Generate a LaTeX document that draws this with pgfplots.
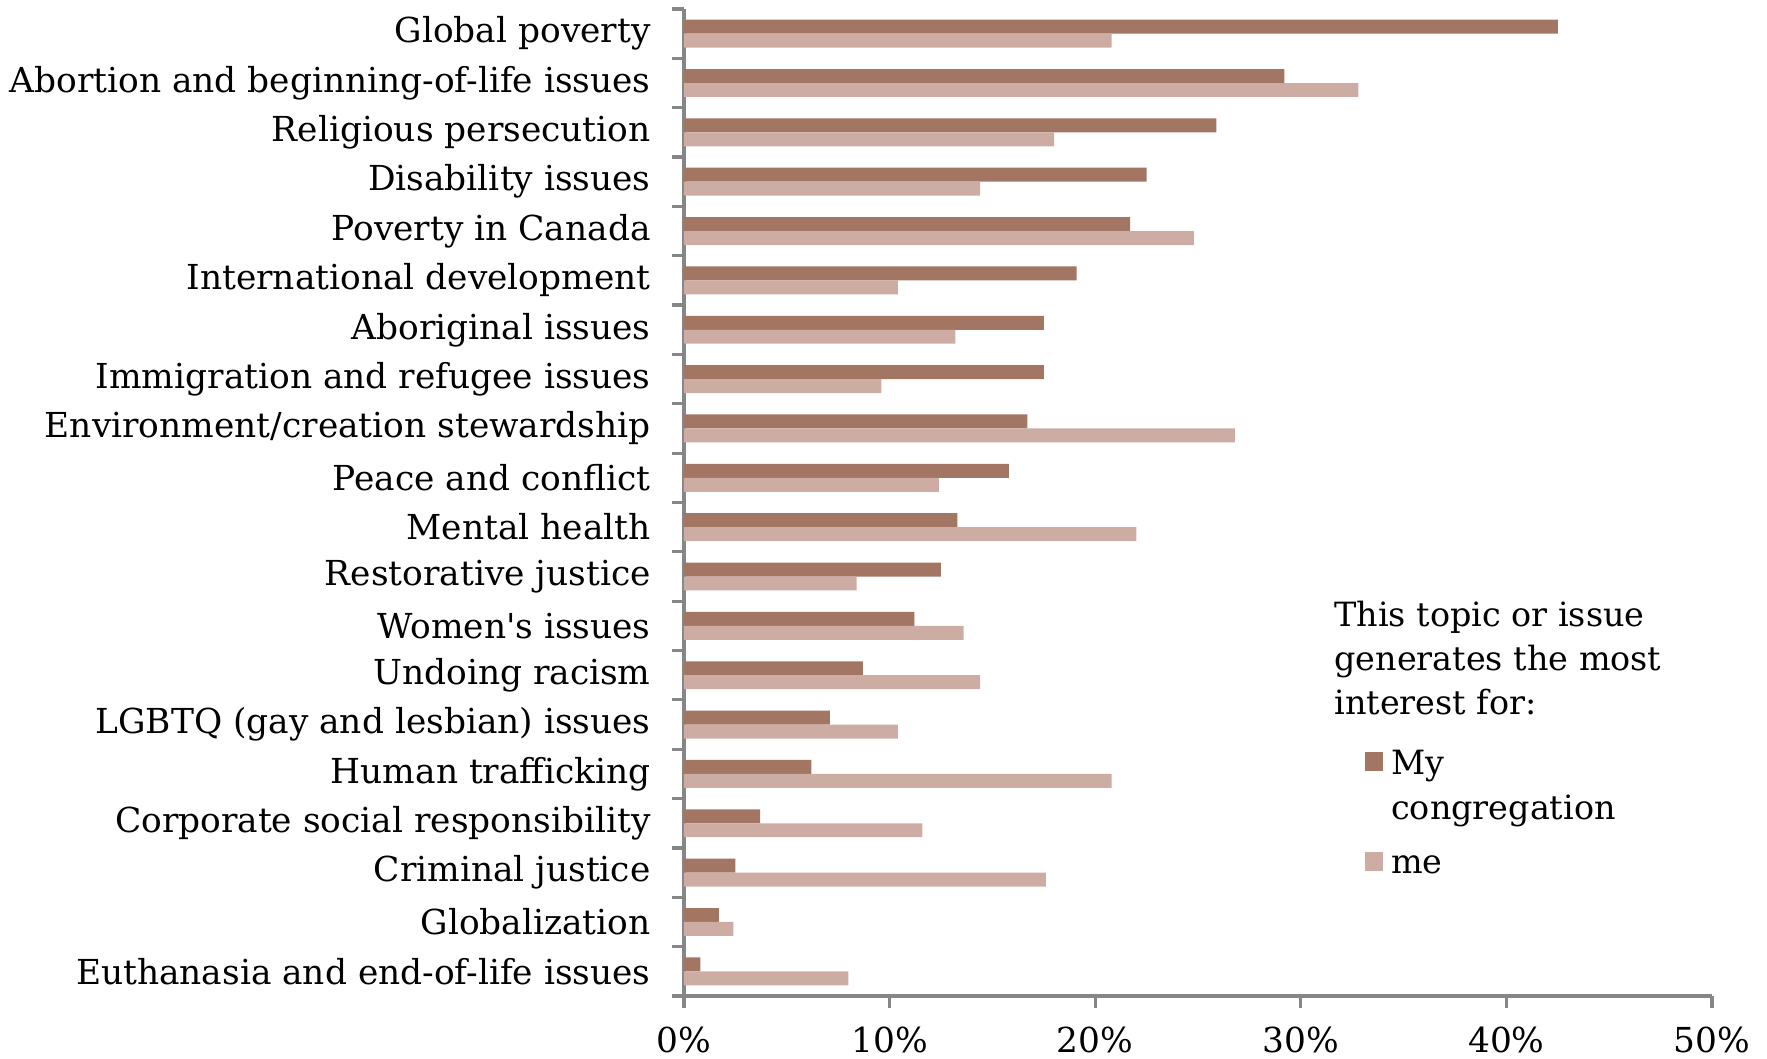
\documentclass[border=0pt]{standalone}
\usepackage{pgfplots}
\pgfplotsset{compat=1.18}
\usepackage{fontspec}
\setmainfont{DejaVu Serif}
\definecolor{cong}{RGB}{163,117,99}
\definecolor{mecol}{RGB}{205,172,163}
\definecolor{axgray}{RGB}{134,134,134}
\begin{document}
\begin{tikzpicture}
\begin{axis}[
  at={(0pt,0pt)}, anchor=south west,
  width=257pt, height=246.75pt, scale only axis,
  xmin=0, xmax=50, ymin=-0.5, ymax=19.5,
  xbar, bar width=0.283,
  axis lines*=left,
  axis line style={axgray, line width=0.8pt},
  tick align=outside, major tick length=3pt, minor tick length=3pt,
  xtick={0,10,...,50},
  xticklabel={\pgfmathprintnumber{\tick}\%},
  x tick style={axgray, line width=0.8pt},
  ytick={0,...,19},
  y tick style={draw=none},
  minor ytick={-0.5,0.5,...,19.5},
  minor y tick style={draw=axgray, line width=0.8pt},
  yticklabels={Euthanasia and end-of-life issues, Globalization, Criminal justice, Corporate social responsibility, Human trafficking, LGBTQ (gay and lesbian) issues, Undoing racism, Women\textquotesingle s issues, Restorative justice, Mental health, Peace and conflict, Environment/creation stewardship, Immigration and refugee issues, Aboriginal issues, International development, Poverty in Canada, Disability issues, Religious persecution, Abortion and beginning-of-life issues, Global poverty},
  yticklabel style={font=\fontsize{8.6}{10}\selectfont, xshift=-1.8pt},
  xticklabel style={font=\fontsize{8.6}{10}\selectfont, yshift=-1.3pt},
  /pgf/number format/assume math mode=true,
  legend style={draw=none, fill=none, inner sep=0pt, anchor=north west,
    at={(rel axis cs:0.6615,0.266)}, font=\fontsize{8.35}{11.4}\selectfont,
    cells={anchor=base west}, row sep=1pt, column sep=0pt},
  legend image code/.code={\fill[#1,draw=none] (0pt,0.7pt) rectangle (4.6pt,5.5pt);},
]
\addplot[fill=cong, draw=none, bar shift=0.1415] coordinates {
(0.8,0) (1.7,1) (2.5,2) (3.7,3) (6.2,4) (7.1,5) (8.7,6) (11.2,7) (12.5,8) (13.3,9)
(15.8,10) (16.7,11) (17.5,12) (17.5,13) (19.1,14) (21.7,15) (22.5,16) (25.9,17) (29.2,18) (42.5,19)};
\addlegendentry{\begin{tabular}[t]{@{}l@{}}My\\congregation\end{tabular}}
\addplot[fill=mecol, draw=none, bar shift=-0.1415] coordinates {
(8.0,0) (2.4,1) (17.6,2) (11.6,3) (20.8,4) (10.4,5) (14.4,6) (13.6,7) (8.4,8) (22.0,9)
(12.4,10) (26.8,11) (9.6,12) (13.2,13) (10.4,14) (24.8,15) (14.4,16) (18.0,17) (32.8,18) (20.8,19)};
\addlegendentry{\rule{0pt}{18.4pt}me}
\node[anchor=north west, align=left, inner sep=0pt, font=\fontsize{8.35}{11}\selectfont]
  at (rel axis cs:0.632,0.401) {This topic or issue\\generates the most\\interest for:};
\end{axis}
\pgfresetboundingbox
\path (-171pt,-15.75pt) rectangle (270.75pt,249pt);
\end{tikzpicture}
\end{document}
